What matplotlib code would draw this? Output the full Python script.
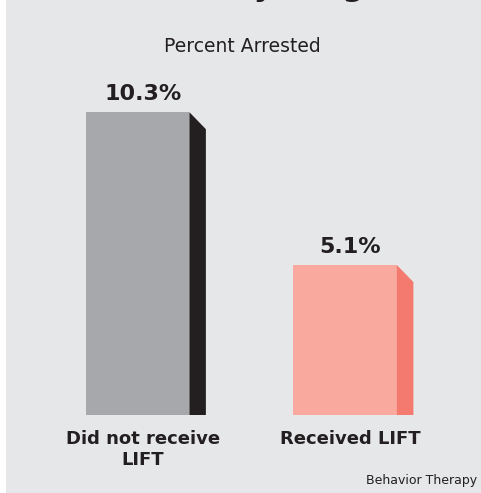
import numpy as np
import matplotlib.pyplot as plt
from matplotlib.patches import Polygon, Rectangle

# data
categories = ["Did not receive\nLIFT", "Received LIFT"]
values = [10.3, 5.1]
value_labels = ["10.3%", "5.1%"]
front_colors = ["#a7a8ab", "#f9a99d"]
side_colors = ["#231f20", "#f47a6f"]

W, H, DPI = 481, 493, 100
px_x = 207.5     # pixels per category step
px_y = 29.4      # pixels per percent
x0_px = 137.5    # centre of first bar front
base_px = 415    # y pixel (from top) of bar bottoms

fig = plt.figure(figsize=(W / DPI + 1e-4, H / DPI + 1e-4), dpi=DPI, facecolor="white")

ax = fig.add_axes([0, 0, 1, 1])
ax.set_facecolor("none")
ax.set_xlim(-x0_px / px_x, (W - x0_px) / px_x)
ax.set_ylim(-(H - base_px) / px_y, base_px / px_y)
ax.axis("off")
ax.add_patch(Rectangle((6 / W, -0.05), 1, 1.1, transform=fig.transFigure,
                       facecolor="#e6e7e9", edgecolor="none", zorder=0))

bw = 0.5
depth_x = 16.5 / px_x
depth_y = 17 / px_y
xs = np.arange(len(values))

ax.bar(xs, values, width=bw, color=front_colors, edgecolor="none", zorder=2)
for x, v, c in zip(xs, values, side_colors):
    r = x + bw / 2
    ax.add_patch(Polygon([(r, 0), (r, v), (r + depth_x, v - depth_y), (r + depth_x, 0)],
                         closed=True, facecolor=c, edgecolor="none", zorder=2))

for x, v, lab in zip(xs, values, value_labels):
    ax.text(x + depth_x / 2 - 0.015, v + 0.4, lab, ha="center", va="baseline",
            fontsize=16, fontweight="bold", color="#231f20", zorder=3)

for x, cat in zip(xs, categories):
    ax.text(x + depth_x / 2 - 0.015, -0.5, cat, ha="center", va="top",
            fontsize=13, fontweight="bold", color="#231f20", linespacing=1.25, zorder=3)

fig.text(242 / W, 1 - 52 / H, "Percent Arrested", ha="center", va="baseline",
         fontsize=13.5, color="#231f20")
fig.text(477 / W, 1 - 484 / H, "Behavior Therapy", ha="right", va="baseline",
         fontsize=9, color="#231f20")
fig.text(232 / W, 1 + 4 / H, "by Program", ha="left", va="baseline",
         fontsize=22, fontweight="bold", color="#231f20")

fig.savefig("out.png", dpi=DPI, facecolor=fig.get_facecolor())
